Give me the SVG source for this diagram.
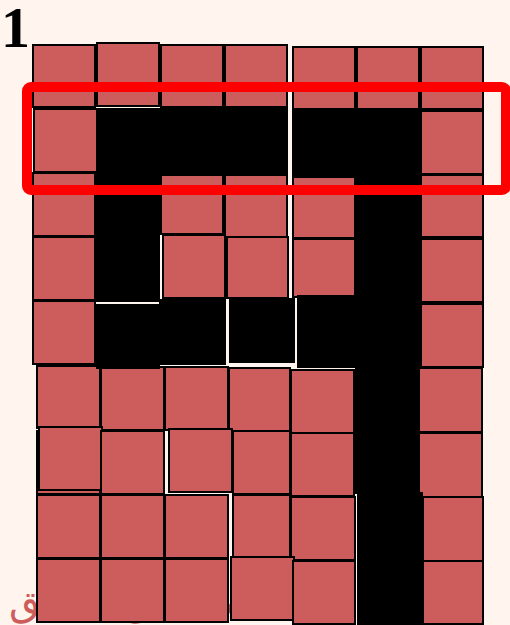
<svg xmlns="http://www.w3.org/2000/svg" width="510" height="625" viewBox="0 0 510 625">
<style>
.c{fill:#cd5c5c;stroke:#000;stroke-width:2}
.b{fill:#000;stroke:#000;stroke-width:2}
.num{font-family:"Liberation Serif",serif;font-weight:bold;font-size:58px;fill:#000}
.wm{font-family:"DejaVu Sans","Noto Sans",sans-serif;font-size:40px;fill:#cd5c5c}
</style>
<rect width="510" height="625" fill="#fff5ee"/>
<text class="num" x="1" y="47">1</text>
<text class="wm" x="9" y="614">مطابق تطبيق</text>
<g id="grid">
<g id="row1">
<rect class="c" x="33" y="45" width="62" height="62"/>
<rect class="c" x="97" y="43" width="62" height="63"/>
<rect class="c" x="161" y="45" width="62" height="62"/>
<rect class="c" x="225" y="45" width="62" height="62"/>
<rect class="c" x="293" y="47" width="62" height="62"/>
<rect class="c" x="357" y="47" width="62" height="62"/>
<rect class="c" x="421" y="47" width="62" height="62"/>
</g>
<g id="row2">
<rect class="c" x="34" y="109" width="63" height="63"/>
<rect class="c" x="421" y="111" width="62" height="63"/>
</g>
<g id="row3">
<rect class="c" x="33" y="173" width="62" height="63"/>
<rect class="c" x="161" y="175" width="62" height="59"/>
<rect class="c" x="225" y="175" width="62" height="62"/>
<rect class="c" x="293" y="177" width="62" height="61"/>
<rect class="c" x="421" y="175" width="62" height="62"/>
</g>
<g id="row4">
<rect class="c" x="33" y="237" width="62" height="63"/>
<rect class="c" x="227" y="237" width="61" height="61"/>
<rect class="c" x="163" y="235" width="62" height="63"/>
<rect class="c" x="293" y="239" width="62" height="58"/>
<rect class="c" x="421" y="239" width="62" height="63"/>
</g>
<g id="row5">
<rect class="c" x="33" y="301" width="62" height="63"/>
<rect class="c" x="421" y="304" width="62" height="63"/>
</g>
<g id="row6">
<rect class="c" x="37" y="366" width="63" height="62"/>
<rect class="c" x="101" y="367" width="63" height="63"/>
<rect class="c" x="165" y="367" width="63" height="63"/>
<rect class="c" x="229" y="368" width="61" height="63"/>
<rect class="c" x="291" y="370" width="63" height="63"/>
<rect class="c" x="419" y="368" width="63" height="64"/>
</g>
<g id="row7">
<rect class="c" x="37" y="431" width="63" height="63"/>
<rect class="c" x="39" y="427" width="63" height="63"/>
<rect class="c" x="101" y="431" width="63" height="63"/>
<rect class="c" x="169" y="429" width="63" height="63"/>
<rect class="c" x="233" y="431" width="57" height="63"/>
<rect class="c" x="291" y="433" width="63" height="63"/>
<rect class="c" x="419" y="433" width="63" height="64"/>
</g>
<g id="row8">
<rect class="c" x="37" y="495" width="63" height="63"/>
<rect class="c" x="101" y="495" width="63" height="63"/>
<rect class="c" x="165" y="495" width="63" height="63"/>
<rect class="c" x="233" y="495" width="57" height="63"/>
<rect class="c" x="291" y="497" width="64" height="63"/>
<rect class="c" x="423" y="497" width="60" height="64"/>
</g>
<g id="row9">
<rect class="c" x="37" y="559" width="63" height="63"/>
<rect class="c" x="101" y="559" width="63" height="63"/>
<rect class="c" x="165" y="559" width="63" height="63"/>
<rect class="c" x="231" y="557" width="63" height="63"/>
<rect class="c" x="293" y="561" width="62" height="63"/>
<rect class="c" x="423" y="561" width="60" height="63"/>
</g>
<g id="path">
<rect class="b" x="97" y="109" width="190" height="64"/>
<rect class="b" x="293" y="111" width="126" height="64"/>
<rect class="b" x="97" y="109" width="62" height="192"/>
<rect class="b" x="357" y="111" width="62" height="256"/>
<rect class="b" x="97" y="305" width="62" height="63"/>
<rect class="b" x="160" y="300" width="65" height="64"/>
<rect class="b" x="230" y="299" width="64" height="63"/>
<rect class="b" x="298" y="296" width="119" height="71"/>
<rect class="b" x="356" y="368" width="62" height="125"/>
<rect class="b" x="358" y="493" width="64" height="132"/>
</g>
</g>
<rect id="highlight" x="27" y="87" width="479" height="103" rx="4" fill="none" stroke="#ff0000" stroke-width="10"/>
</svg>
